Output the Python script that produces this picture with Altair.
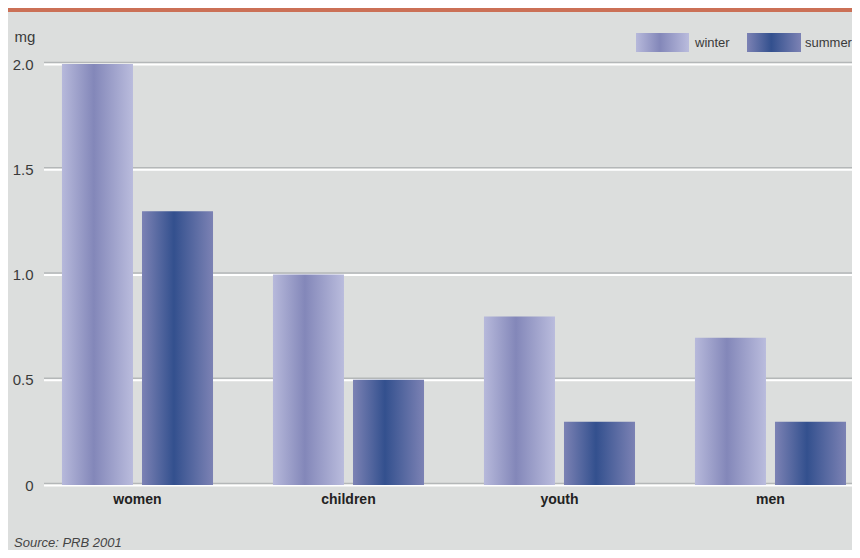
import altair as alt
import pandas as pd

categories = ["women", "children", "youth", "men"]
seasons = ["winter", "summer"]
winter_values = [2.0, 1.0, 0.8, 0.7]
summer_values = [1.3, 0.5, 0.3, 0.3]
y_ticks = [0, 0.5, 1.0, 1.5, 2.0]
source_note = ["Source: PRB 2001"]
y_unit = "mg"

W, H = 808, 421
FONT = "Liberation Sans, Arial, sans-serif"
BG = "#DCDEDD"

df = pd.DataFrame({
    "category": categories * 2,
    "season": ["winter"] * len(categories) + ["summer"] * len(categories),
    "value": winter_values + summer_values,
})
ticks_df = pd.DataFrame({"value": y_ticks})


def grad(stops):
    return alt.LinearGradient(
        gradient="linear", x1=0, x2=1, y1=0, y2=0,
        stops=[alt.GradientStop(offset=o, color=c) for o, c in stops],
    )


winter_grad = grad([(0, "#B7B9DB"), (0.45, "#8387B9"), (1, "#BABCDD")])
summer_grad = grad([(0, "#7C82B4"), (0.45, "#33508E"), (1, "#7C82B4")])

yscale = alt.Scale(domain=[0, 2], nice=False)
yaxis = alt.Axis(values=y_ticks, grid=False, domain=False, ticks=False,
                 labelExpr="datum.value == 0 ? '0' : format(datum.value, '.1f')",
                 labelFont=FONT, labelFontSize=15, labelColor="#3a3a3a", labelPadding=11,
                 title=y_unit, titleAngle=0, titleX=-30, titleY=-23, titleAlign="left",
                 titleBaseline="alphabetic", titleFont=FONT, titleFontSize=15,
                 titleFontWeight="normal", titleColor="#3a3a3a")
y_enc = alt.Y("value:Q", scale=yscale, axis=yaxis)

x_enc = alt.X(
    "category:N", sort=categories,
    scale=alt.Scale(paddingInner=0.284, paddingOuter=0.0567, align=0.75),
    axis=alt.Axis(title=None, labelAngle=0, domain=False, ticks=False, grid=False,
                  labelFont=FONT, labelFontSize=14, labelFontWeight="bold",
                  labelColor="#222222", labelPadding=7),
)
xo_enc = alt.XOffset("season:N", sort=seasons,
                     scale=alt.Scale(domain=seasons, paddingInner=0.1125, paddingOuter=0))

grid_gray = alt.Chart(ticks_df).mark_rule(color="#B4B7B8", strokeWidth=1.5, yOffset=-1.5).encode(
    y=y_enc)
grid_white = alt.Chart(ticks_df).mark_rule(color="#FFFFFF", strokeWidth=2, yOffset=0.5).encode(
    y=y_enc)

bars_w = alt.Chart(df).transform_filter(alt.datum.season == "winter").mark_bar(
    color=winter_grad).encode(x=x_enc, xOffset=xo_enc, y=y_enc)
bars_s = alt.Chart(df).transform_filter(alt.datum.season == "summer").mark_bar(
    color=summer_grad).encode(x=x_enc, xOffset=xo_enc, y=y_enc)

leg_df = pd.DataFrame({"season": seasons})
leg_w = alt.Chart(leg_df).transform_filter(alt.datum.season == "winter").mark_rect(
    color=winter_grad).encode(x=alt.value(592), x2=alt.value(645), y=alt.value(-31), y2=alt.value(-12))
leg_s = alt.Chart(leg_df).transform_filter(alt.datum.season == "summer").mark_rect(
    color=summer_grad).encode(x=alt.value(703), x2=alt.value(757), y=alt.value(-31), y2=alt.value(-12))
leg_wt = alt.Chart(leg_df).transform_filter(alt.datum.season == "winter").mark_text(
    align="left", baseline="middle", font=FONT, fontSize=13, color="#3a3a3a").encode(
    x=alt.value(651), y=alt.value(-21), text="season:N")
leg_st = alt.Chart(leg_df).transform_filter(alt.datum.season == "summer").mark_text(
    align="left", baseline="middle", font=FONT, fontSize=13, color="#3a3a3a").encode(
    x=alt.value(761), y=alt.value(-21), text="season:N")

src = alt.Chart(pd.DataFrame({"note": source_note})).mark_text(
    align="left", baseline="alphabetic", font=FONT, fontSize=13, fontStyle="italic",
    color="#444444").encode(x=alt.value(-30), y=alt.value(483), text="note:N")

band = alt.Chart(pd.DataFrame({"note": source_note})).mark_rect(color="#CB7056").encode(
    x=alt.value(-40), x2=alt.value(W + 10), y=alt.value(-60), y2=alt.value(-52))

chart = alt.layer(
    grid_gray, grid_white, bars_w, bars_s, leg_w, leg_s, leg_wt, leg_st, src, band
).properties(
    width=W, height=H,
    autosize=alt.AutoSizeParams(type="none"),
    padding={"left": 36, "top": 56, "right": 0, "bottom": 65},
    background=BG,
).configure_view(stroke=None)

chart.save("out.html", embed_options={"renderer": "svg", "actions": False})
